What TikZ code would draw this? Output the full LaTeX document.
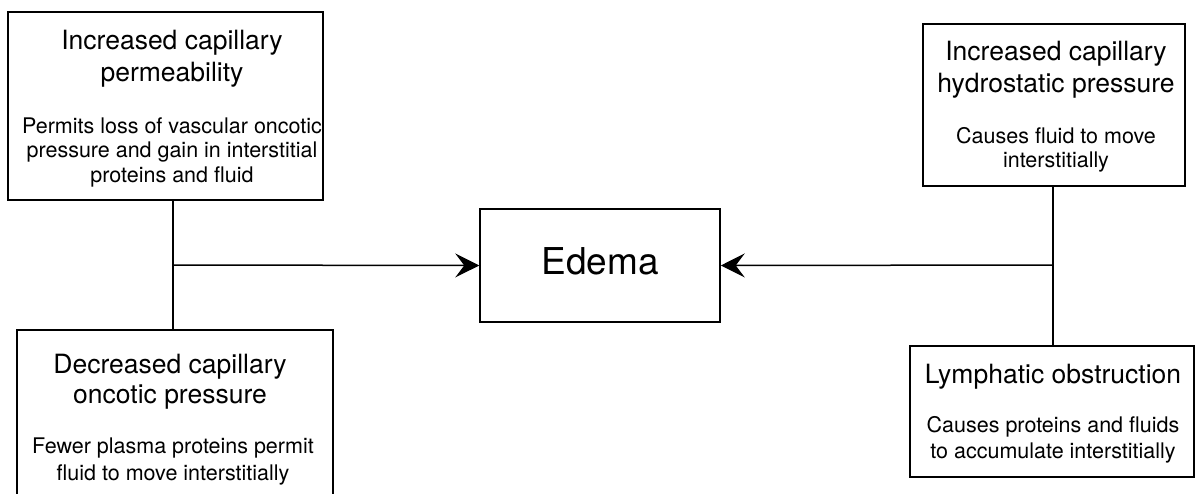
\documentclass[tikz,border=0pt]{standalone}
\usepackage{fontspec}
\setmainfont{TeX Gyre Heros}
\usetikzlibrary{arrows.meta}
\begin{document}
\begin{tikzpicture}[x=1pt,y=-1pt,
  box/.style={draw, line width=1.5pt, inner sep=0pt},
  tl/.style={anchor=base, inner sep=0pt, font=\fontsize{26.5}{30}\selectfont},
  bl/.style={anchor=base, inner sep=0pt, font=\fontsize{21.5}{25}\selectfont},
  conn/.style={line width=1.5pt},
  arr/.style={conn, -{Stealth[length=24pt,width=24pt,inset=9pt]}}]
\fill[white] (0,0) rectangle (1196,493);
\clip (0,0) rectangle (1196,493);
% boxes
\node[box, minimum width=315pt, minimum height=188pt] (b1) at (165.5,106) {};
\node[box, minimum width=316pt, minimum height=180pt] (b2) at (175,420) {};
\node[box, minimum width=262pt, minimum height=162pt] (b3) at (1054,105) {};
\node[box, minimum width=284pt, minimum height=131pt] (b4) at (1052,411.5) {};
\node[box, minimum width=240pt, minimum height=113pt] (ed) at (600,265.5) {};
% texts
\node[tl] (t1a) at (172,49) {Increased capillary};
\node[tl] (t1b) at (172,81) {permeability};
\node[bl] (s1a) at (172,133) {Permits loss of vascular oncotic};
\node[bl] (s1b) at (172,157.5) {pressure and gain in interstitial};
\node[bl] (s1c) at (172,182.5) {proteins and fluid};
\node[tl] (t2a) at (170,373) {Decreased capillary};
\node[tl] (t2b) at (170,403) {oncotic pressure};
\node[bl] (s2a) at (173,453) {Fewer plasma proteins permit};
\node[bl] (s2b) at (173,480) {fluid to move interstitially};
\node[tl] (t3a) at (1056,60) {Increased capillary};
\node[tl] (t3b) at (1056,92) {hydrostatic pressure};
\node[bl] (s3a) at (1056,143) {Causes fluid to move};
\node[bl] (s3b) at (1056,167) {interstitially};
\node[tl] (t4a) at (1053,383) {Lymphatic obstruction};
\node[bl] (s4a) at (1053,432) {Causes proteins and fluids};
\node[bl] (s4b) at (1053,458) {to accumulate interstitially};
\node[anchor=base, inner sep=0pt, font=\fontsize{37}{40}\selectfont] (edt) at (600,274) {Edema};
% connectors
\coordinate (j1) at (173,265);
\coordinate (j2) at (1053,265);
\draw[conn] (b1.south -| j1) -- (b2.north -| j1);
\draw[conn] (b3.south -| j2) -- (b4.north -| j2);
\draw[arr] (j1) -- (ed.west);
\draw[arr] (j2) -- (ed.east);
\end{tikzpicture}
\end{document}
